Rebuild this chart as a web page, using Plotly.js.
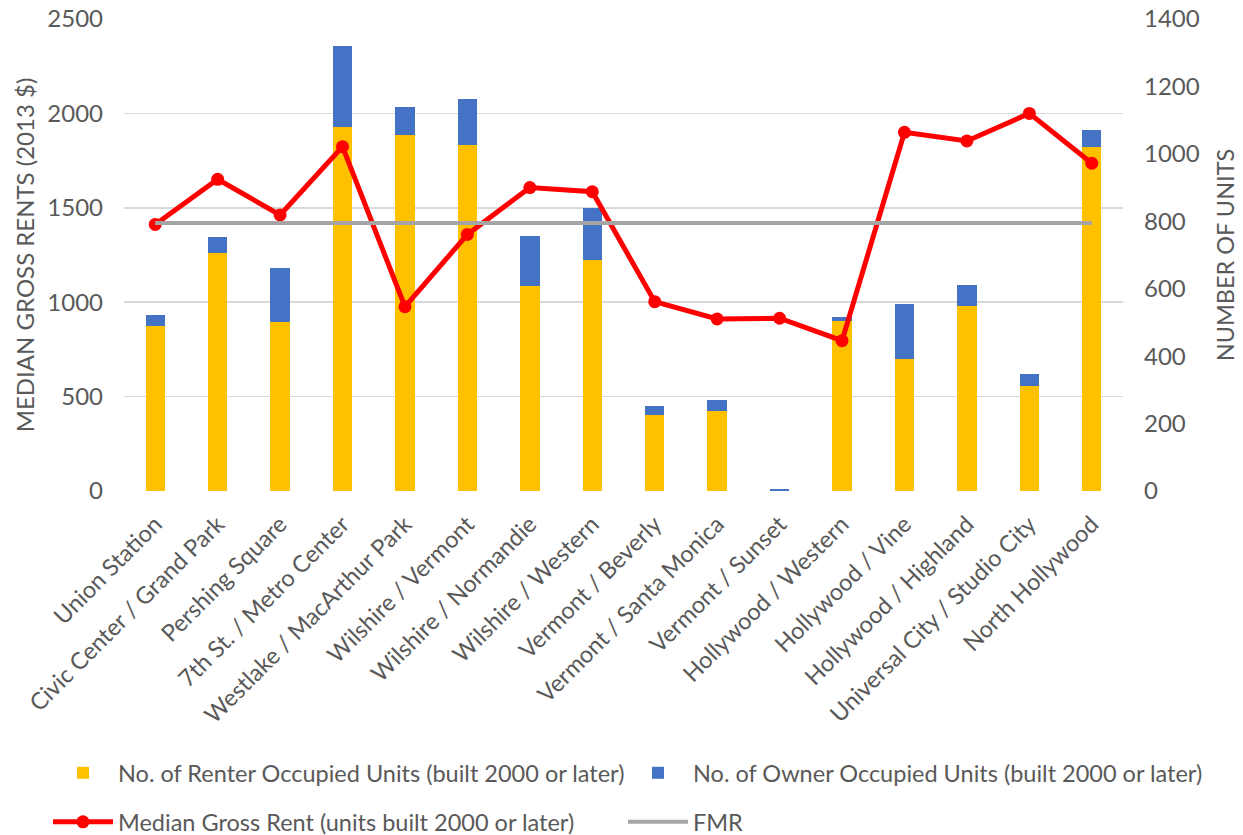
<!DOCTYPE html>
<html>
<head>
<meta charset="utf-8">
<script src="https://cdn.plot.ly/plotly-3.0.1.min.js"></script>
<style>html,body{margin:0;padding:0;background:#fff;}#chart{width:1243px;height:835px;}</style>
</head>
<body>
<div id="chart"></div>
<script>
const stations = ["Union Station","Civic Center / Grand Park","Pershing Square","7th St. / Metro Center","Westlake / MacArthur Park","Wilshire / Vermont","Wilshire / Normandie","Wilshire / Western","Vermont / Beverly","Vermont / Santa Monica","Vermont / Sunset","Hollywood / Western","Hollywood / Vine","Hollywood / Highland","Universal City / Studio City","North Hollywood"];
const renterUnits = [488, 705, 500, 1081, 1057, 1025, 609, 684, 226, 237, 0, 505, 391, 549, 312, 1019];
const ownerUnits  = [34, 48, 161, 238, 83, 138, 146, 155, 26, 33, 5, 12, 164, 62, 35, 53];
const medianRent  = [1412, 1651, 1462, 1824, 976, 1359, 1607, 1585, 1003, 911, 915, 796, 1900, 1854, 2000, 1736];
const fmr         = [1420, 1420, 1420, 1420, 1420, 1420, 1420, 1420, 1420, 1420, 1420, 1420, 1420, 1420, 1420, 1420];

const FONT = 'Lato, "Open Sans", sans-serif';
const TXT = '#595959';

const traces = [
  {type:'bar', name:'No. of Renter Occupied Units (built 2000 or later)', x:stations, y:renterUnits,
   marker:{color:'#FFC000'}, yaxis:'y', legend:'legend', hoverinfo:'skip'},
  {type:'bar', name:'No. of Owner Occupied Units (built 2000 or later)', x:stations, y:ownerUnits,
   marker:{color:'#4472C4'}, yaxis:'y', legend:'legend2', hoverinfo:'skip'},
  {type:'scatter', mode:'lines+markers', name:'Median Gross Rent (units built 2000 or later)', x:stations, y:medianRent,
   line:{color:'#FF0000', width:5}, marker:{color:'#FF0000', size:13}, yaxis:'y2', legend:'legend3', hoverinfo:'skip'},
  {type:'scatter', mode:'lines', name:'FMR', x:stations, y:fmr,
   line:{color:'#A5A5A5', width:4}, yaxis:'y2', legend:'legend4', hoverinfo:'skip'}
];

const legendBase = {orientation:'h', font:{family:FONT, size:23.5, color:TXT}, bgcolor:'rgba(0,0,0,0)', itemwidth:60, xanchor:'left', yanchor:'middle'};

const layout = {
  width:1243, height:835,
  margin:{l:124, r:120, t:19, b:344, autoexpand:false},
  paper_bgcolor:'#fff', plot_bgcolor:'#fff',
  font:{family:FONT, size:24, color:TXT},
  barmode:'stack', bargap:0.69,
  xaxis:{type:'category', range:[-0.5, 15.5], tickangle:-45, tickfont:{family:FONT, size:23.5, color:TXT}, showgrid:false,
         showline:false, ticks:'', ticklabelstandoff:14},
  yaxis:{side:'right', range:[0,1400], dtick:200, showgrid:false, zeroline:false,
         tickfont:{family:FONT, size:24, color:TXT}, ticklabelstandoff:20,
         title:{text:'NUMBER OF UNITS', font:{family:FONT, size:23.5, color:TXT}, standoff:18}},
  yaxis2:{overlaying:'y', side:'left', range:[0,2500], dtick:500, showgrid:true, gridcolor:'#D9D9D9', gridwidth:1.5,
          zeroline:false, tickfont:{family:FONT, size:24, color:TXT}, ticklabelstandoff:20,
          title:{text:'MEDIAN GROSS RENTS (2013 $)', font:{family:FONT, size:24, color:TXT}, standoff:5}},
  showlegend:true,
  legend: Object.assign({}, legendBase, {x:-0.0761, y:-0.5975}),
  legend2: Object.assign({}, legendBase, {x:0.4995, y:-0.5975}),
  legend3: Object.assign({}, legendBase, {x:-0.0761, y:-0.7013}),
  legend4: Object.assign({}, legendBase, {x:0.4995, y:-0.7013})
};

Plotly.newPlot('chart', traces, layout, {displayModeBar:false, staticPlot:true});
</script>
</body>
</html>
